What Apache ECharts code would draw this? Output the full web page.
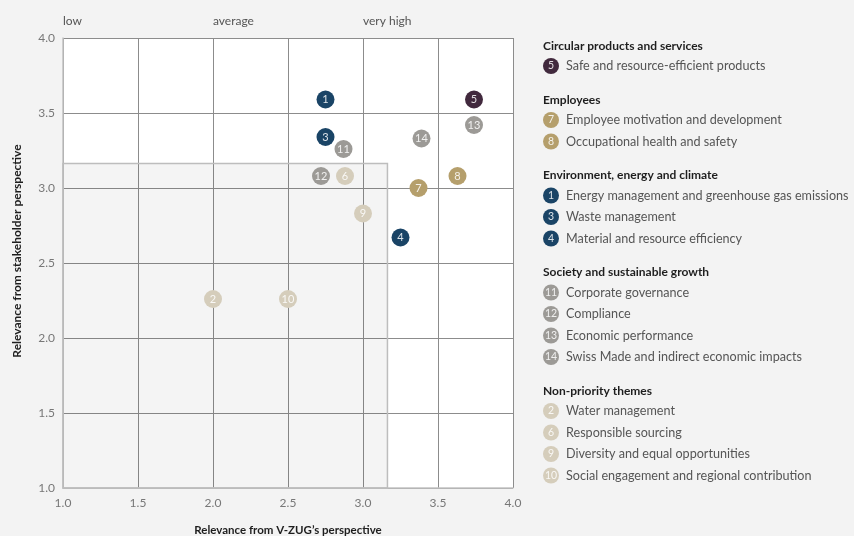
<!DOCTYPE html>
<html>
<head>
<meta charset="utf-8">
<script src="https://cdn.jsdelivr.net/npm/echarts@6/dist/echarts.min.js"></script>
<style>
  html, body { margin: 0; padding: 0; background: #f3f3f3; }
  #chart { width: 854px; height: 536px; }
</style>
</head>
<body>
<div id="chart"></div>
<script>
// Materiality themes: [company relevance, stakeholder relevance, theme number]
const groupNames = [
  'Circular products and services',
  'Employees',
  'Environment, energy and climate',
  'Society and sustainable growth',
  'Non-priority themes'
];
const groupColors = ['#41293d', '#b59f6c', '#1a4466', '#9c9a96', '#d5cdbb'];

const circularPoints = [[3.74, 3.59, 5]];
const employeePoints = [[3.37, 3.00, 7], [3.63, 3.08, 8]];
const environmentPoints = [[2.75, 3.59, 1], [2.75, 3.34, 3], [3.25, 2.67, 4]];
const societyPoints = [[2.87, 3.26, 11], [2.72, 3.08, 12], [3.74, 3.42, 13], [3.39, 3.33, 14]];
const nonPriorityPoints = [[2.0, 2.26, 2], [2.88, 3.08, 6], [3.0, 2.83, 9], [2.5, 2.26, 10]];

const circularThemes = [[5, 'Safe and resource-efficient products']];
const employeeThemes = [[7, 'Employee motivation and development'], [8, 'Occupational health and safety']];
const environmentThemes = [[1, 'Energy management and greenhouse gas emissions'], [3, 'Waste management'], [4, 'Material and resource efficiency']];
const societyThemes = [[11, 'Corporate governance'], [12, 'Compliance'], [13, 'Economic performance'], [14, 'Swiss Made and indirect economic impacts']];
const nonPriorityThemes = [[2, 'Water management'], [6, 'Responsible sourcing'], [9, 'Diversity and equal opportunities'], [10, 'Social engagement and regional contribution']];

const axisTicks = [1.0, 1.5, 2.0, 2.5, 3.0, 3.5, 4.0];
const levelLabels = { 1: 'low', 2: 'average', 3: 'very high' };
const priorityZone = [[1, 1], [3.163, 3.163]];

const pointGroups = [circularPoints, employeePoints, environmentPoints, societyPoints, nonPriorityPoints];
const themeGroups = [circularThemes, employeeThemes, environmentThemes, societyThemes, nonPriorityThemes];

const FONT = 'Lato, "Noto Sans", sans-serif';

const series = pointGroups.map((pts, i) => ({
  type: 'scatter',
  name: groupNames[i],
  data: pts,
  symbolSize: 18,
  z: 5,
  itemStyle: { color: groupColors[i], opacity: 1 },
  label: {
    show: true,
    position: 'inside',
    formatter: p => String(p.value[2]),
    color: 'rgba(255,255,255,0.85)',
    fontFamily: FONT,
    fontSize: 11
  },
  emphasis: { disabled: true }
}));

// low-priority region
series.push({
  type: 'scatter',
  data: [],
  silent: true,
  markArea: {
    silent: true,
    itemStyle: { color: 'rgba(0,0,0,0.045)', borderColor: '#bdbdbd', borderWidth: 1.5 },
    data: [[{ coord: priorityZone[0] }, { coord: priorityZone[1] }]]
  }
});

// legend block built from the theme lists
const legendX = 543;
const graphics = [];
let y = 46;
themeGroups.forEach((items, gi) => {
  graphics.push({
    type: 'text', x: legendX, y: y,
    style: { text: groupNames[gi], fontFamily: FONT, fontSize: 12, fontWeight: 'bold', fill: '#1e1e1e', verticalAlign: 'middle' }
  });
  y += 20;
  items.forEach(([num, label]) => {
    graphics.push({
      type: 'circle', shape: { cx: legendX + 8, cy: y, r: 8 },
      style: { fill: groupColors[gi] }
    });
    graphics.push({
      type: 'text', x: legendX + 8, y: y,
      style: { text: String(num), fontFamily: FONT, fontSize: 10.5, fill: 'rgba(255,255,255,0.85)', align: 'center', verticalAlign: 'middle' }
    });
    graphics.push({
      type: 'text', x: legendX + 23, y: y,
      style: { text: label, fontFamily: FONT, fontSize: 12.6, fill: '#555', verticalAlign: 'middle' }
    });
    y += 21.5;
  });
  y += 12.5;
});

const chart = echarts.init(document.getElementById('chart'));
chart.setOption({
  backgroundColor: '#f3f3f3',
  animation: false,
  textStyle: { fontFamily: FONT },
  grid: {
    left: 63, top: 38, width: 450, height: 450,
    outerBoundsMode: 'none', containLabel: false,
    show: true, backgroundColor: '#ffffff', borderWidth: 0
  },
  xAxis: [{
    type: 'value', min: axisTicks[0], max: axisTicks[axisTicks.length - 1], interval: 0.5,
    name: 'Relevance from V-ZUG\u2019s perspective', nameLocation: 'middle', nameGap: 36,
    nameTextStyle: { fontFamily: FONT, fontSize: 11.5, fontWeight: 'bold', color: '#1e1e1e' },
    axisLine: { lineStyle: { color: '#c2c2c2', width: 1.5 } },
    axisTick: { show: false },
    axisLabel: { color: '#777', fontSize: 12, margin: 9, formatter: v => v.toFixed(1) },
    splitLine: { show: true, lineStyle: { color: '#8c8c8c', width: 1 } }
  }, {
    type: 'value', position: 'top', min: axisTicks[0], max: axisTicks[axisTicks.length - 1], interval: 1,
    axisLine: { show: false }, axisTick: { show: false }, splitLine: { show: false },
    axisLabel: { color: '#555', fontSize: 12, margin: 11, align: 'left', formatter: v => levelLabels[v] || '' }
  }],
  yAxis: {
    type: 'value', min: axisTicks[0], max: axisTicks[axisTicks.length - 1], interval: 0.5,
    name: 'Relevance from stakeholder perspective', nameLocation: 'middle', nameGap: 40, nameRotate: 90,
    nameTextStyle: { fontFamily: FONT, fontSize: 12, fontWeight: 'bold', color: '#1e1e1e', padding: [0, 0, 0, 24] },
    axisLine: { show: true, lineStyle: { color: '#c2c2c2', width: 1.5 } },
    axisTick: { show: false },
    axisLabel: { color: '#777', fontSize: 12, margin: 8, formatter: v => v.toFixed(1) },
    splitLine: { show: true, lineStyle: { color: '#8c8c8c', width: 1 } }
  },
  graphic: graphics,
  series: series
});
</script>
</body>
</html>
